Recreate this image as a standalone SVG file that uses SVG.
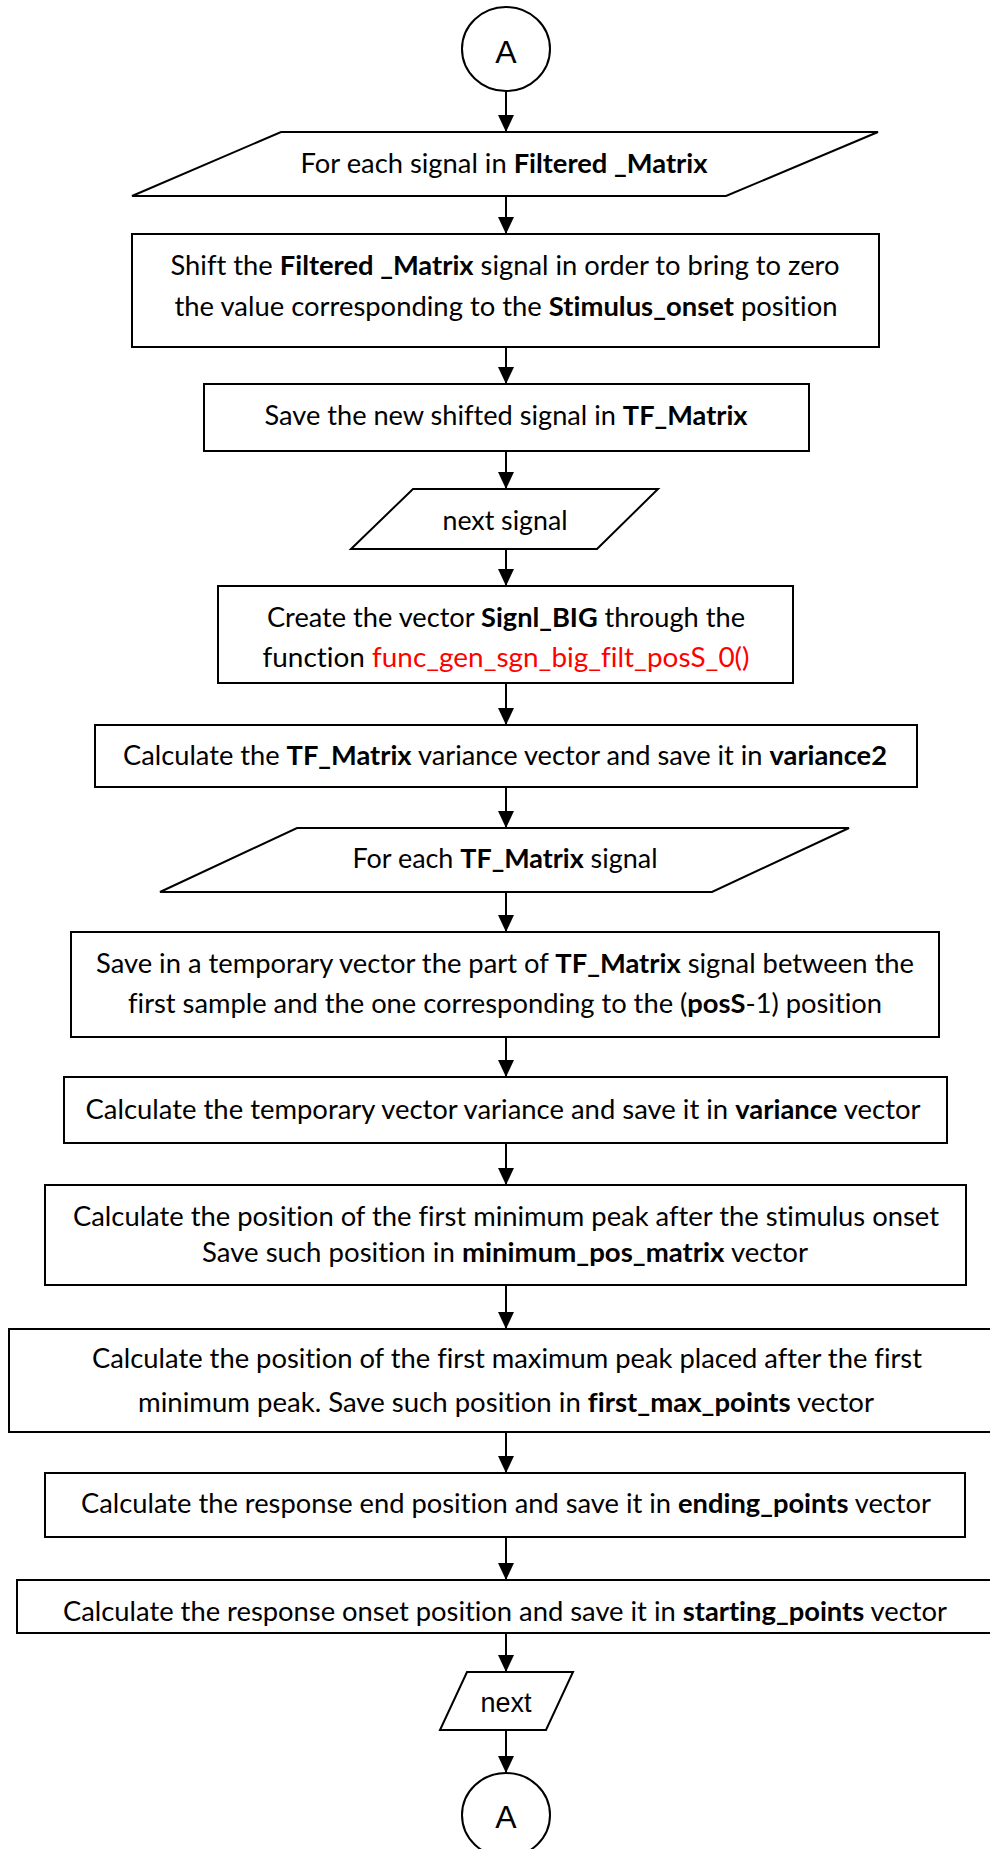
<svg xmlns="http://www.w3.org/2000/svg" width="990" height="1849" viewBox="0 0 990 1849">
  <style>
    .shape { fill: #ffffff; stroke: #000000; stroke-width: 2; }
    .link { fill: none; stroke: #000000; stroke-width: 2; marker-end: url(#arrow); }
    .t { font-family: Lato, "Liberation Sans", sans-serif; font-size: 26px; fill: #000000; text-anchor: middle; font-variant-ligatures: none; }
    .conn { font-family: "Liberation Sans", Arial, sans-serif; font-size: 32px; fill: #000000; text-anchor: middle; }
    .b { font-weight: bold; }
    .fn { fill: #ff0000; }
  </style>
  <defs>
    <marker id="arrow" viewBox="0 0 16 18" refX="16" refY="8" markerWidth="16" markerHeight="18" markerUnits="userSpaceOnUse" orient="auto">
      <path d="M0,0 L17,8 L0,16 Z" fill="#000000"/>
    </marker>
  </defs>

  <rect width="990" height="1849" fill="#ffffff"/>

  <!-- connectors -->
  <g id="connectors">
    <line class="link" x1="506" y1="91" x2="506" y2="131"/>
    <line class="link" x1="506" y1="196" x2="506" y2="233"/>
    <line class="link" x1="506" y1="347" x2="506" y2="383"/>
    <line class="link" x1="506" y1="451" x2="506" y2="488"/>
    <line class="link" x1="506" y1="549" x2="506" y2="585"/>
    <line class="link" x1="506" y1="683" x2="506" y2="724"/>
    <line class="link" x1="506" y1="787" x2="506" y2="827"/>
    <line class="link" x1="506" y1="892" x2="506" y2="931"/>
    <line class="link" x1="506" y1="1037" x2="506" y2="1076"/>
    <line class="link" x1="506" y1="1143" x2="506" y2="1184"/>
    <line class="link" x1="506" y1="1285" x2="506" y2="1328"/>
    <line class="link" x1="506" y1="1432" x2="506" y2="1472"/>
    <line class="link" x1="506" y1="1537" x2="506" y2="1579"/>
    <line class="link" x1="506" y1="1633" x2="506" y2="1671"/>
    <line class="link" x1="506" y1="1730" x2="506" y2="1772"/>
  </g>

  <!-- entry connector -->
  <g id="start">
    <ellipse class="shape" cx="506" cy="49" rx="44" ry="42"/>
    <text class="conn" x="506" y="63">A</text>
  </g>

  <g id="loop-signals">
    <polygon class="shape" points="281,132 878,132 726,196 132,196"/>
    <text class="t" x="504" y="173" textLength="407" lengthAdjust="spacingAndGlyphs">For each signal in <tspan class="b">Filtered _Matrix</tspan></text>
  </g>

  <g id="shift">
    <rect class="shape" x="132" y="234" width="747" height="113"/>
    <text class="t" x="505" y="275" textLength="669" lengthAdjust="spacingAndGlyphs">Shift the <tspan class="b">Filtered _Matrix</tspan> signal in order to bring to zero</text>
    <text class="t" x="506" y="316" textLength="663" lengthAdjust="spacingAndGlyphs">the value corresponding to the <tspan class="b">Stimulus_onset</tspan> position</text>
  </g>

  <g id="save-tf">
    <rect class="shape" x="204" y="384" width="605" height="67"/>
    <text class="t" x="506" y="425" textLength="483" lengthAdjust="spacingAndGlyphs">Save the new shifted signal in <tspan class="b">TF_Matrix</tspan></text>
  </g>

  <g id="next-signal">
    <polygon class="shape" points="413,489 658,489 597,549 351,549"/>
    <text class="t" x="505" y="530" textLength="125" lengthAdjust="spacingAndGlyphs">next signal</text>
  </g>

  <g id="create-big">
    <rect class="shape" x="218" y="586" width="575" height="97"/>
    <text class="t" x="506" y="627" textLength="478" lengthAdjust="spacingAndGlyphs">Create the vector <tspan class="b">Signl_BIG</tspan> through the</text>
    <text class="t" x="506" y="667" textLength="487" lengthAdjust="spacingAndGlyphs">function <tspan class="fn">func_gen_sgn_big_filt_posS_0()</tspan></text>
  </g>

  <g id="variance2">
    <rect class="shape" x="95" y="725" width="822" height="62"/>
    <text class="t" x="505" y="765" textLength="764" lengthAdjust="spacingAndGlyphs">Calculate the <tspan class="b">TF_Matrix</tspan> variance vector and save it in <tspan class="b">variance2</tspan></text>
  </g>

  <g id="loop-tf">
    <polygon class="shape" points="297,828 849,828 712,892 160,892"/>
    <text class="t" x="505" y="868" textLength="305" lengthAdjust="spacingAndGlyphs">For each <tspan class="b">TF_Matrix</tspan> signal</text>
  </g>

  <g id="temp-vector">
    <rect class="shape" x="71" y="932" width="868" height="105"/>
    <text class="t" x="505" y="973" textLength="818" lengthAdjust="spacingAndGlyphs">Save in a temporary vector the part of <tspan class="b">TF_Matrix</tspan> signal between the</text>
    <text class="t" x="505" y="1013" textLength="754" lengthAdjust="spacingAndGlyphs">first sample and the one corresponding to the (<tspan class="b">posS</tspan>-1) position</text>
  </g>

  <g id="variance">
    <rect class="shape" x="64" y="1077" width="883" height="66"/>
    <text class="t" x="503" y="1119" textLength="835" lengthAdjust="spacingAndGlyphs">Calculate the temporary vector variance and save it in <tspan class="b">variance</tspan> vector</text>
  </g>

  <g id="minimum">
    <rect class="shape" x="45" y="1185" width="921" height="100"/>
    <text class="t" x="506" y="1226" textLength="866" lengthAdjust="spacingAndGlyphs">Calculate the position of the first minimum peak after the stimulus onset</text>
    <text class="t" x="505" y="1262" textLength="606" lengthAdjust="spacingAndGlyphs">Save such position in <tspan class="b">minimum_pos_matrix</tspan> vector</text>
  </g>

  <g id="maximum">
    <rect class="shape" x="9" y="1329" width="990" height="103"/>
    <text class="t" x="507" y="1368" textLength="830" lengthAdjust="spacingAndGlyphs">Calculate the position of the first maximum peak placed after the first</text>
    <text class="t" x="506" y="1412" textLength="736" lengthAdjust="spacingAndGlyphs">minimum peak. Save such position in <tspan class="b">first_max_points</tspan> vector</text>
  </g>

  <g id="ending">
    <rect class="shape" x="45" y="1473" width="920" height="64"/>
    <text class="t" x="506" y="1513" textLength="850" lengthAdjust="spacingAndGlyphs">Calculate the response end position and save it in <tspan class="b">ending_points</tspan> vector</text>
  </g>

  <g id="starting">
    <rect class="shape" x="17" y="1580" width="990" height="53"/>
    <text class="t" x="505" y="1621" textLength="884" lengthAdjust="spacingAndGlyphs">Calculate the response onset position and save it in <tspan class="b">starting_points</tspan> vector</text>
  </g>

  <g id="next">
    <polygon class="shape" points="467,1672 573,1672 546,1730 440,1730"/>
    <text x="506" y="1712" font-family="'Liberation Sans', Arial, sans-serif" font-size="28" text-anchor="middle" textLength="51" lengthAdjust="spacingAndGlyphs">next</text>
  </g>

  <!-- loop-back connector -->
  <g id="end">
    <ellipse class="shape" cx="506" cy="1815" rx="44" ry="42"/>
    <text class="conn" x="506" y="1828">A</text>
  </g>
</svg>
